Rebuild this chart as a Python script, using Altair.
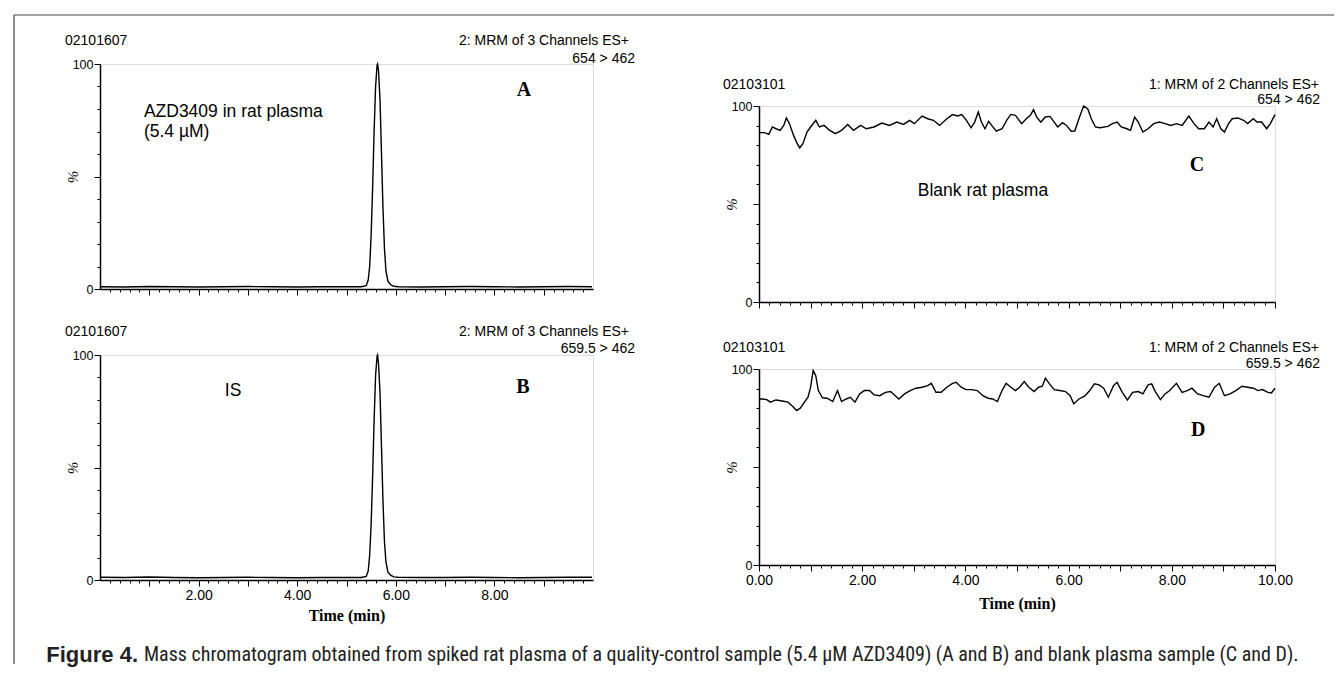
import altair as alt
import pandas as pd

# ---------------- data ----------------
# Panels A and B: chromatogram with a single peak (time in min, intensity in %)
ab_time = [0.02, 0.5, 1.0, 1.5, 2.0, 2.5, 3.0, 3.5, 4.0, 4.5, 5.0,
           5.30, 5.40, 5.44, 5.47, 5.50, 5.53, 5.56, 5.59, 5.62, 5.63,
           5.65, 5.68, 5.71, 5.74, 5.77, 5.80, 5.84, 5.90, 5.96, 6.05,
           6.5, 7.0, 7.5, 8.0, 8.5, 9.0, 9.5, 9.98]
a_val = [1.0, 0.9, 1.1, 1.0, 0.9, 1.0, 1.1, 1.0, 0.9, 1.0, 1.0,
         1.0, 1.5, 4, 10, 24, 45, 70, 90, 99.5, 100,
         97, 84, 60, 36, 18, 8, 3.5, 1.8, 1.2, 1.0,
         0.9, 1.0, 1.1, 1.0, 0.9, 1.0, 1.1, 1.0]
b_val = [1.2, 1.1, 1.3, 1.1, 1.0, 1.1, 1.2, 1.1, 1.0, 1.1, 1.1,
         1.1, 1.6, 4, 11, 25, 46, 71, 91, 99.5, 100,
         96, 83, 59, 35, 17, 8, 3.5, 2.0, 1.4, 1.2,
         1.1, 1.1, 1.2, 1.1, 1.0, 1.1, 1.2, 1.2]

# Panel C: blank plasma, 654 > 462
c_time = [0.0, 0.11, 0.19, 0.26, 0.33, 0.41, 0.48, 0.53, 0.59, 0.67, 0.74, 0.79, 0.85, 0.93,
          1.00, 1.10, 1.17, 1.26, 1.37, 1.48, 1.60, 1.72, 1.83, 1.97, 2.08, 2.23, 2.38, 2.53,
          2.67, 2.80, 2.92, 3.01, 3.16, 3.27, 3.38, 3.50, 3.64, 3.75, 3.85, 3.93, 4.02, 4.11,
          4.18, 4.25, 4.31, 4.38, 4.45, 4.51, 4.60, 4.71, 4.80, 4.88, 4.97, 5.09, 5.18, 5.26,
          5.32, 5.38, 5.46, 5.55, 5.64, 5.72, 5.79, 5.88, 5.96, 6.05, 6.12, 6.20, 6.29, 6.37,
          6.44, 6.52, 6.61, 6.76, 6.85, 6.94, 7.02, 7.13, 7.20, 7.28, 7.35, 7.44, 7.54, 7.65,
          7.76, 7.87, 7.98, 8.09, 8.20, 8.33, 8.43, 8.52, 8.63, 8.72, 8.80, 8.87, 8.95, 9.02,
          9.10, 9.17, 9.28, 9.39, 9.47, 9.58, 9.65, 9.74, 9.84, 9.91, 10.0]
c_val = [86.4, 86.4, 85.5, 89.3, 88.4, 87.6, 90.1, 93.9, 91.0, 85.0, 80.8, 78.6, 80.8, 86.7,
         89.3, 92.7, 89.3, 90.1, 87.6, 85.9, 87.6, 90.6, 87.6, 90.1, 88.4, 89.3, 91.3, 90.1,
         91.8, 90.6, 92.7, 91.0, 94.9, 93.5, 92.7, 90.1, 93.5, 95.6, 94.9, 95.6, 92.7, 88.9,
         91.8, 96.9, 91.8, 88.4, 92.2, 90.1, 87.2, 88.4, 92.7, 95.7, 95.2, 91.0, 93.5, 95.2,
         98.1, 94.4, 91.8, 94.4, 94.7, 91.8, 89.3, 91.5, 90.1, 87.1, 87.2, 93.5, 100.0, 98.6,
         93.5, 89.3, 88.9, 89.6, 91.0, 91.8, 89.3, 88.4, 87.6, 94.4, 91.8, 86.7, 88.4, 91.0,
         91.8, 91.0, 90.1, 91.0, 90.1, 94.9, 91.0, 88.4, 88.4, 91.8, 89.3, 93.5, 88.4, 86.7,
         91.0, 93.5, 93.9, 92.7, 91.0, 93.5, 91.8, 91.8, 88.4, 91.0, 95.6]

# Panel D: blank plasma, 659.5 > 462
d_time = [0.0, 0.07, 0.15, 0.22, 0.33, 0.45, 0.56, 0.65, 0.73, 0.80, 0.88, 0.95, 1.00, 1.05,
          1.10, 1.15, 1.23, 1.32, 1.43, 1.52, 1.60, 1.69, 1.77, 1.86, 1.95, 2.04, 2.14, 2.23,
          2.34, 2.45, 2.55, 2.64, 2.71, 2.82, 2.93, 3.04, 3.16, 3.27, 3.34, 3.43, 3.53, 3.64,
          3.75, 3.82, 3.92, 4.01, 4.12, 4.23, 4.34, 4.44, 4.53, 4.62, 4.71, 4.79, 4.88, 4.97,
          5.05, 5.14, 5.23, 5.33, 5.42, 5.49, 5.55, 5.63, 5.72, 5.83, 5.94, 6.03, 6.10, 6.20,
          6.31, 6.41, 6.50, 6.59, 6.68, 6.77, 6.87, 6.94, 7.04, 7.14, 7.24, 7.35, 7.44, 7.54,
          7.61, 7.68, 7.78, 7.87, 7.96, 8.09, 8.20, 8.30, 8.39, 8.50, 8.61, 8.72, 8.83, 8.92,
          9.02, 9.13, 9.24, 9.36, 9.47, 9.58, 9.67, 9.76, 9.86, 9.93, 10.0]
d_val = [84.7, 84.7, 84.4, 83.1, 84.2, 83.7, 83.1, 81.0, 78.8, 80.0, 83.1, 85.6, 90.7, 99.2,
         96.6, 89.0, 85.3, 85.1, 83.4, 89.0, 83.4, 84.7, 85.6, 83.1, 87.3, 89.0, 89.0, 86.8,
         86.4, 88.1, 88.5, 86.4, 84.7, 87.3, 89.0, 90.2, 90.7, 91.5, 92.7, 88.1, 88.1, 90.7,
         92.7, 93.2, 90.7, 89.5, 89.5, 89.0, 86.4, 85.1, 84.7, 83.4, 89.0, 92.7, 90.7, 89.0,
         90.7, 93.6, 90.7, 88.5, 90.7, 91.2, 95.3, 92.4, 89.5, 89.0, 88.5, 86.4, 82.2, 84.7,
         86.1, 89.0, 92.4, 91.9, 90.2, 85.6, 91.5, 93.2, 88.1, 84.2, 88.1, 88.5, 87.3, 91.9,
         92.4, 88.5, 84.4, 87.3, 89.0, 92.7, 88.1, 89.0, 90.2, 87.3, 86.4, 85.6, 90.7, 92.7,
         86.4, 87.3, 89.0, 91.2, 90.7, 90.2, 89.0, 89.5, 88.1, 87.8, 90.2]

# axis tick values
x_major_ab = [1, 2, 3, 4, 5, 6, 7, 8, 9]
x_major_cd = [0, 1, 2, 3, 4, 5, 6, 7, 8, 9, 10]
x_minor = [round(i * 0.2, 1) for i in range(1, 50) if i % 5 != 0]
y_major = [0, 50, 100]
y_minor = [10, 20, 30, 40, 60, 70, 80, 90]

# texts
sample_ab = "02101607"
sample_cd = "02103101"
fn_ab = "2: MRM of 3 Channels ES+"
fn_cd = "1: MRM of 2 Channels ES+"
trans_a = "654 > 462"
trans_b = "659.5 > 462"
trans_c = "654 > 462"
trans_d = "659.5 > 462"
caption_bold = "Figure 4."
caption_rest = ("Mass chromatogram obtained from spiked rat plasma of a quality-control sample "
                "(5.4 \u00b5M AZD3409) (A and B) and  blank plasma sample (C and D).")

SANS = "Liberation Sans"
SERIF = "Liberation Serif"
NARROW = "Liberation Sans Narrow, Arial Narrow, Roboto Condensed, Liberation Sans"


def panel(times, vals, w, h, xmajor, label_expr, show_labels, xtitle, title_y,
          headers, notes, letter):
    df = pd.DataFrame({"t": times, "v": vals})
    xs = alt.Scale(domain=[0, 10], nice=False, zero=False)
    ys = alt.Scale(domain=[0, 100], nice=False)

    xaxis_kw = dict(values=xmajor, orient="bottom", tickSize=6, tickWidth=1, tickColor="black",
                    domainColor="black", domainWidth=1.5, grid=False, labels=show_labels,
                    labelFont=SANS, labelFontSize=14, labelColor="black", labelPadding=2,
                    labelFlush=False, labelOverlap=False)
    if show_labels:
        xaxis_kw["labelExpr"] = label_expr
    if xtitle:
        xaxis_kw.update(title=xtitle, titleFont=SERIF, titleFontWeight="bold", titleFontSize=16,
                        titleColor="black", titleY=title_y, titleBaseline="middle")
    else:
        xaxis_kw["title"] = None

    yaxis = alt.Axis(values=y_major, orient="left", tickSize=6, tickWidth=1, tickColor="black",
                     domainColor="black", domainWidth=1.5, grid=False, format="d",
                     labelExpr="datum.value == 50 ? '' : datum.label",
                     labelFont=SANS, labelFontSize=12.5, labelColor="black", labelPadding=1,
                     title="%", titleFont=SERIF, titleFontSize=15, titleFontWeight="normal",
                     titleFontStyle="italic", titleColor="black", titleAngle=270,
                     titleX=-28, titleY=h / 2, titleBaseline="middle", titleAlign="center")

    main = alt.Chart(df).mark_line(color="black", strokeWidth=1.4).encode(
        x=alt.X("t:Q", scale=xs, axis=alt.Axis(**xaxis_kw)),
        y=alt.Y("v:Q", scale=ys, axis=yaxis),
    )
    minor = alt.Chart(df).mark_line(strokeOpacity=0).encode(
        x=alt.X("t:Q", scale=xs, axis=alt.Axis(values=x_minor, orient="bottom", tickSize=3,
                                                 tickWidth=1, tickColor="black", domain=False,
                                                 labels=False, grid=False, title=None)),
        y=alt.Y("v:Q", scale=ys, axis=alt.Axis(values=y_minor, orient="left", tickSize=3,
                                                 tickWidth=1, tickColor="black", domain=False,
                                                 labels=False, grid=False, title=None)),
    )
    layers = [main, minor]

    # header texts (pixel offsets from plot origin)
    for text, px, py, align in headers:
        layers.append(
            alt.Chart(pd.DataFrame({"s": [text]})).mark_text(
                font=SANS, fontSize=14, color="black", align=align, baseline="middle"
            ).encode(text="s:N", x=alt.value(px), y=alt.value(py))
        )
    # in-plot notes (data coordinates)
    for text, tx, ty, align in notes:
        layers.append(
            alt.Chart(pd.DataFrame({"s": [text], "t": [tx], "v": [ty]})).mark_text(
                font=SANS, fontSize=17.5, color="black", align=align, baseline="middle"
            ).encode(text="s:N", x=alt.X("t:Q", scale=xs, axis=None),
                     y=alt.Y("v:Q", scale=ys, axis=None))
        )
    lt, lx, ly = letter
    layers.append(
        alt.Chart(pd.DataFrame({"s": [lt], "t": [lx], "v": [ly]})).mark_text(
            font=SERIF, fontSize=20, fontWeight="bold", color="black", align="center",
            baseline="middle"
        ).encode(text="s:N", x=alt.X("t:Q", scale=xs, axis=None),
                 y=alt.Y("v:Q", scale=ys, axis=None))
    )
    return layers


even_expr = "datum.value % 2 === 0 ? format(datum.value, '.2f') : ''"

WA, HA = 493, 225
WC, HC = 516, 196

# ---- panel A ----
layers_a = panel(ab_time, a_val, WA, HA, x_major_ab, even_expr, False, None, 0,
                 [(sample_ab, -35, -23, "left"), (fn_ab, 529, -23, "right"), (trans_a, 535, -5, "right")],
                 [("AZD3409 in rat plasma", 0.89, 78.7, "left"), ("(5.4 \u00b5M)", 0.89, 69.8, "left")],
                 ("A", 8.60, 88.4))
frame = alt.Chart(pd.DataFrame({"k": [0]}))
layers_a.append(frame.mark_rule(color="#444444", strokeWidth=1.2).encode(
    x=alt.value(-86), x2=alt.value(1234), y=alt.value(-49)))
layers_a.append(frame.mark_rule(color="#444444", strokeWidth=1.2).encode(
    x=alt.value(-86), y=alt.value(-49), y2=alt.value(600)))
chart_a = alt.layer(*layers_a).resolve_axis(x="independent", y="independent").properties(
    width=WA, height=HA)

# ---- panel B ----
layers_b = panel(ab_time, b_val, WA, HA, x_major_ab, even_expr, True, "Time (min)", 35,
                 [(sample_ab, -35, -23, "left"), (fn_ab, 529, -23, "right"), (trans_b, 535, -6, "right")],
                 [("IS", 2.70, 84.0, "center")],
                 ("B", 8.58, 85.8))
cap = alt.Chart(pd.DataFrame({"s": [caption_bold], "r": [caption_rest]}))
layers_b.append(cap.mark_text(font=SANS, fontSize=22, fontWeight="bold", color="#222222",
                              align="right", baseline="middle").encode(
    text="s:N", x=alt.value(38), y=alt.value(300)))
layers_b.append(cap.mark_text(font=NARROW, fontSize=20, color="#222222",
                              align="left", baseline="middle").encode(
    text="r:N", x=alt.value(44), y=alt.value(300)))
chart_b = alt.layer(*layers_b).resolve_axis(x="independent", y="independent").properties(
    width=WA, height=HA)

# ---- panel C ----
layers_c = panel(c_time, c_val, WC, HC, x_major_cd, even_expr, False, None, 0,
                 [(sample_cd, -36, -21, "left"), (fn_cd, 560, -21, "right"), (trans_c, 561, -6, "right")],
                 [("Blank rat plasma", 4.34, 56.6, "center")],
                 ("C", 8.49, 69.9))
chart_c = alt.layer(*layers_c).resolve_axis(x="independent", y="independent").properties(
    width=WC, height=HC)

# ---- panel D ----
layers_d = panel(d_time, d_val, WC, HC, x_major_cd, even_expr, True, "Time (min)", 38,
                 [(sample_cd, -36, -21, "left"), (fn_cd, 560, -21, "right"), (trans_d, 561, -5, "right")],
                 [],
                 ("D", 8.51, 68.9))
chart_d = alt.layer(*layers_d).resolve_axis(x="independent", y="independent").properties(
    width=WC, height=HC)

spacer = alt.Chart(pd.DataFrame({"k": [0]})).mark_point(opacity=0).properties(width=WC, height=42)

left_col = alt.vconcat(chart_a, chart_b, spacing=66, bounds="flush")
right_col = alt.vconcat(spacer, alt.vconcat(chart_c, chart_d, spacing=67, bounds="flush"),
                        spacing=0, bounds="flush")

# with flush bounds the nested left column counts as zero width, so the
# spacing carries the left plot width (493) plus the 166 px gap
chart = alt.hconcat(left_col, right_col, spacing=WA + 166, bounds="flush").properties(
    padding={"left": 4, "top": 5, "right": 0, "bottom": 0}
).configure_view(stroke="transparent").configure(background="white")

chart.save("out.html", embed_options={"renderer": "svg", "actions": False})
